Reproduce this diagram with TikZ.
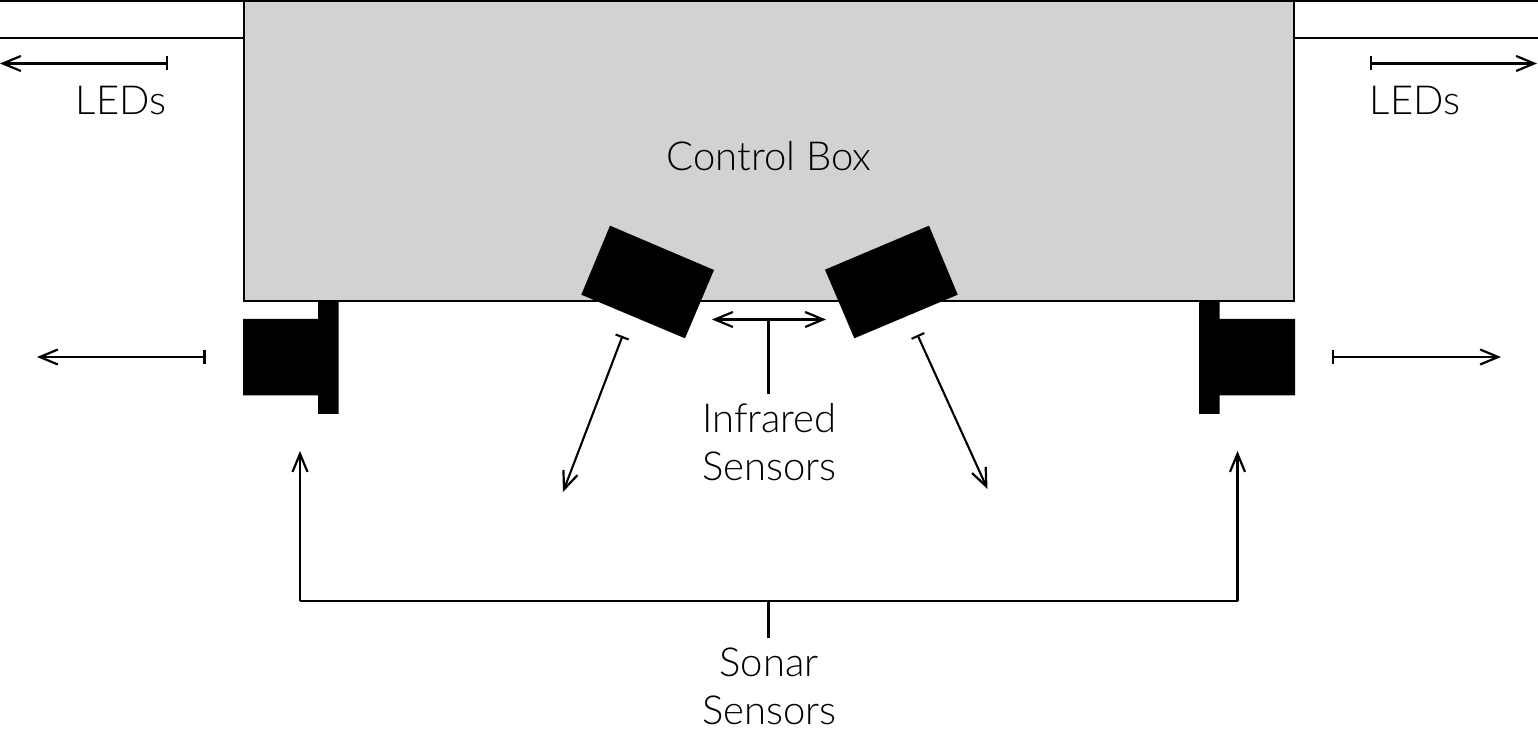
\documentclass[tikz,border=0pt]{standalone}
\usepackage{fontspec}
\setmainfont{Lato}[UprightFont=* Light]
\usetikzlibrary{arrows.meta}
\definecolor{boxgray}{HTML}{D1D2D4}
\tikzset{
  x=0.5pt,y=-0.5pt,
  solidpart/.style={fill=black,draw=none},
  lbl/.style={font=\fontsize{20}{24}\selectfont,text=black,inner sep=0pt,anchor=base},
  barb/.tip={Straight Barb[length=9pt,width=7.5pt,line width=1.1pt]},
  stopbar/.tip={Bar[width=7pt,line width=1.05pt]},
  measure/.style={line width=1.05pt,stopbar-barb},
  lead/.style={line width=1.05pt,-barb},
  both/.style={line width=1.05pt,barb-barb},
  plain/.style={line width=1.05pt}
}
\begin{document}
\begin{tikzpicture}
\useasboundingbox (0,0) rectangle (1538,731);
% free ends
\coordinate (topL) at (0,0.5);
\coordinate (topR) at (1538,0.5);
\coordinate (railLa) at (0,38.5);
\coordinate (railLb) at (244,38.5);
\coordinate (railRa) at (1294,38.5);
\coordinate (railRb) at (1538,38.5);
\coordinate (ledLs) at (168,63.5);
\coordinate (ledLe) at (0,63.5);
\coordinate (ledRs) at (1369.5,63.5);
\coordinate (ledRe) at (1537,63.5);
\coordinate (sonLs) at (205.5,357);
\coordinate (sonLe) at (37,357);
\coordinate (sonRs) at (1332,357);
\coordinate (sonRe) at (1501,357);
\coordinate (irLs) at (622.5,336);
\coordinate (irLe) at (563,492);
\coordinate (irRs) at (917.5,335);
\coordinate (irRe) at (987.5,489);
\coordinate (gapL) at (712,319.5);
\coordinate (gapR) at (826,319.5);
\coordinate (gapM) at (768.5,319.5);
\coordinate (gapB) at (768.5,394);
\coordinate (brL) at (300,601);
\coordinate (brR) at (1237.5,601);
\coordinate (brLt) at (300,451);
\coordinate (brRt) at (1237.5,451);
\coordinate (brM) at (768.5,601);
\coordinate (brB) at (768.5,638);
% control box
\path[fill=boxgray,draw=black,line width=1pt] (244,0.5) rectangle (1294,301);
\draw[plain] (topL) -- (topR);
\draw[plain,line width=1pt] (railLa) -- (railLb);
\draw[plain,line width=1pt] (railRa) -- (railRb);
% sonar sensors
\path[solidpart] (243,319) -- (318,319) -- (318,301) -- (338.5,301) -- (338.5,414) -- (318,414) -- (318,395.5) -- (243,395.5) -- cycle;
\path[solidpart] (1295,319) -- (1219.5,319) -- (1219.5,301) -- (1199,301) -- (1199,414) -- (1219.5,414) -- (1219.5,395.5) -- (1295,395.5) -- cycle;
% infrared sensors
\path[solidpart] (610,225.7) -- (714,270) -- (685,338.3) -- (581.3,294.7) -- cycle;
\path[solidpart] (929,225.7) -- (825,269.7) -- (854.3,338.3) -- (957.7,294.7) -- cycle;
% arrows
\draw[measure] (ledLs) -- (ledLe);
\draw[measure] (ledRs) -- (ledRe);
\draw[measure] (sonLs) -- (sonLe);
\draw[measure] (sonRs) -- (sonRe);
\draw[measure] (irLs) -- (irLe);
\draw[measure] (irRs) -- (irRe);
\draw[both] (gapL) -- (gapR);
\draw[plain] (gapM) -- (gapB);
\draw[lead] (brL) -- (brLt);
\draw[lead] (brR) -- (brRt);
\draw[plain] (brL) -- (brR);
\draw[plain] (brM) -- (brB);
% labels
\node[lbl] (tControl) at (769,171) {Control Box};
\node[lbl] (tLedL) at (121,115) {LEDs};
\node[lbl] (tLedR) at (1415,115) {LEDs};
\node[lbl] (tIr1) at (769.5,433) {Infrared};
\node[lbl] (tIr2) at (769.5,481) {Sensors};
\node[lbl] (tSo1) at (769,677) {Sonar};
\node[lbl] (tSo2) at (769.5,725) {Sensors};
\end{tikzpicture}
\end{document}
